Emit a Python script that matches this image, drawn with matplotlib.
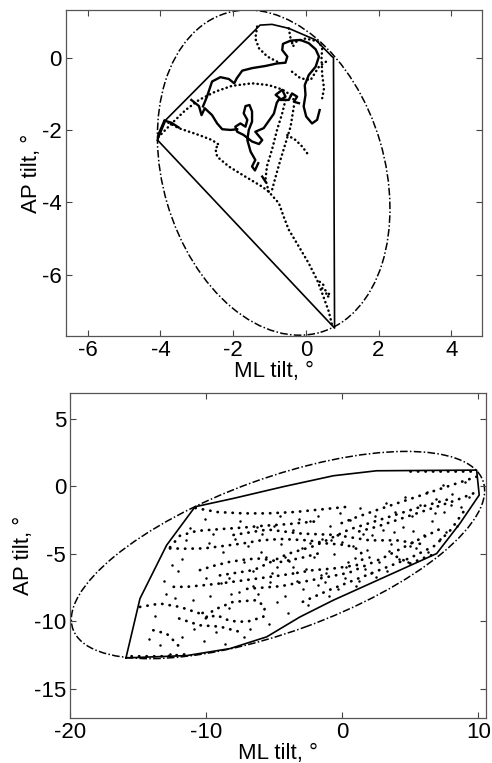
import matplotlib
matplotlib.use("Agg")
import matplotlib.pyplot as plt
from matplotlib.patches import Ellipse

plt.rcParams['font.family'] = ['Liberation Sans', 'DejaVu Sans']
plt.rcParams['axes.unicode_minus'] = False

# ---------------- top panel data (deg) ----------------
top_ell_center = (-0.885, -3.18)
top_ell_width = 6.1
top_ell_height = 9.2
top_ell_angle = 16.3

top_hull = [(-4.08, -2.28), (-3.85, -1.72), (-1.26, 0.90), (-0.93, 0.92), (-0.47, 0.81),
            (0.27, 0.49), (0.72, 0.03), (0.76, 0.0), (0.79, -7.48), (-4.08, -2.28)]

# dense (solid looking) parts of the sway path
top_solid_a = [(-4.06, -2.14), (-3.89, -1.74), (-3.70, -1.80), (-3.50, -1.93)]
top_solid_b1 = [(-3.15, -1.17), (-2.94, -1.34), (-2.87, -1.59), (-2.78, -1.40), (-2.58, -1.59),
                (-2.44, -1.82), (-2.30, -1.98), (-2.07, -2.00), (-1.89, -1.98)]
top_solid_b2 = [(-2.83, -1.35), (-2.72, -1.08), (-2.58, -0.66), (-2.35, -0.54), (-2.12, -0.59),
                (-1.97, -0.71), (-1.90, -0.57), (-1.75, -0.36), (-1.48, -0.29), (-1.11, -0.23),
                (-0.79, -0.16), (-0.56, -0.14), (-0.51, 0.03), (-0.65, 0.21), (-0.63, 0.38),
                (-0.42, 0.47), (-0.15, 0.49), (0.08, 0.40), (0.27, 0.23), (0.36, 0.03),
                (0.27, -0.25), (0.08, -0.48), (-0.03, -0.76), (-0.01, -1.03), (-0.06, -1.35),
                (0.01, -1.63), (0.17, -1.82), (0.31, -1.72), (0.38, -1.45)]
top_solid_c = [(-0.19, -1.26), (-0.33, -1.22), (-0.24, -1.08), (-0.38, -0.99), (-0.47, -1.17),
               (-0.70, -1.17), (-0.56, -1.08), (-0.65, -0.89), (-0.83, -1.03), (-0.72, -1.12),
               (-0.80, -1.25), (-0.88, -1.55), (-1.16, -1.95), (-1.39, -2.05), (-1.20, -2.28),
               (-1.29, -2.39), (-1.48, -2.32), (-1.71, -2.14), (-1.89, -2.05), (-1.94, -1.91),
               (-1.80, -1.82), (-1.66, -1.91), (-1.61, -1.72), (-1.71, -1.54), (-1.66, -1.34),
               (-1.55, -1.31), (-1.48, -1.49), (-1.48, -1.77), (-1.57, -2.00), (-1.61, -2.28),
               (-1.52, -2.60), (-1.39, -2.83), (-1.48, -3.01), (-1.40, -3.12), (-1.31, -2.92)]
top_solid_d = [(-1.20, -3.29), (-1.11, -3.43)]

# sparse (dotted looking) parts of the sway path
top_dot_1 = [(-3.89, -1.74), (-3.50, -1.95), (-2.94, -2.14), (-2.58, -2.28), (-2.39, -2.41),
             (-2.49, -2.51), (-2.44, -2.74), (-2.12, -3.01), (-1.75, -3.24), (-1.20, -3.57),
             (-1.02, -3.71), (-0.74, -4.03), (-0.61, -4.40), (-0.47, -4.76), (-0.19, -5.23),
             (0.08, -5.69), (0.31, -6.15), (0.45, -6.52), (0.63, -7.02), (0.72, -7.39)]
top_dot_2 = [(-4.06, -2.20), (-3.68, -1.81), (-3.31, -1.45), (-2.94, -1.17), (-2.49, -0.94),
             (-2.03, -0.78), (-1.48, -0.71), (-1.02, -0.76), (-0.65, -0.88), (-0.42, -1.03),
             (-0.33, -1.17)]
top_dot_3 = [(-0.56, -1.17), (-0.65, -1.54), (-0.79, -1.99), (-0.93, -2.54), (-1.07, -3.00),
             (-1.11, -3.37), (-1.02, -3.71)]
top_dot_4 = [(-0.33, -1.35), (-0.42, -1.91), (-0.56, -2.37), (-0.70, -2.83), (-0.83, -3.29),
             (-0.93, -3.66)]
top_dot_5 = [(-0.51, -2.14), (-0.28, -2.28), (-0.10, -2.46), (0.04, -2.65), (0.10, -2.72)]
top_dot_6 = [(-1.34, 0.86), (-1.39, 0.53), (-1.29, 0.26), (-1.06, 0.03), (-0.79, -0.11)]
top_dot_7 = [(-0.47, 0.81), (-0.42, 0.53), (-0.33, 0.30)]
top_dot_8 = [(-0.38, 0.40), (-0.01, 0.53), (0.36, 0.44), (0.45, 0.26), (0.43, -0.02),
             (0.45, -0.48), (0.50, -0.85), (0.45, -1.12)]
top_dot_9 = [(-0.38, -0.39), (-0.15, -0.57), (0.13, -0.62), (0.36, -0.25), (0.63, -0.06)]
top_dot_10 = [(0.38, -6.20), (0.50, -6.30), (0.44, -6.40), (0.58, -6.45), (0.55, -6.58),
              (0.65, -6.62), (0.63, -6.50)]

# ---------------- bottom panel data (deg) ----------------
bot_ell_center = (-4.73, -5.09)
bot_ell_width = 32.1
bot_ell_height = 11.4
bot_ell_angle = 20.1

bot_hull = [(-15.91, -12.72), (-14.88, -8.32), (-12.92, -4.36), (-10.83, -1.51), (-8.01, -0.89),
            (-4.34, -0.02), (-0.66, 0.79), (2.52, 1.16), (9.88, 1.21), (10.07, -0.64),
            (8.65, -2.75), (6.94, -4.98), (4.24, -6.21), (-0.66, -8.44), (-3.11, -9.68),
            (-5.56, -11.16), (-8.26, -12.03), (-11.45, -12.55), (-15.91, -12.72)]

bot_path_1 = [(-10.8, -1.6), (-9.2, -1.9), (-7.3, -2.0), (-5.5, -2.0), (-3.5, -1.9), (-1.5, -1.7), (0.5, -1.5)]
bot_path_2 = [(-12.67, -4.52), (-11.94, -3.66), (-10.71, -3.30), (-8.99, -3.17), (-7.28, -3.05),
              (-5.81, -2.92), (-4.0, -2.8), (-2.0, -2.6)]
bot_path_3 = [(-12.67, -4.6), (-11.5, -4.62), (-10.2, -4.6), (-9.0, -4.45), (-7.3, -4.23),
              (-6.0, -4.0), (-4.5, -3.9), (-2.5, -4.0), (-1.15, -4.23), (0.32, -4.35),
              (1.30, -4.72), (1.55, -5.34), (1.06, -5.84), (-0.66, -6.09), (-2.13, -6.21),
              (-3.6, -6.46)]
bot_path_4 = [(-10.47, -6.21), (-9.5, -5.9), (-8.3, -5.6), (-7.0, -5.4), (-6.0, -5.35),
              (-4.5, -5.6), (-3.0, -5.3), (-1.5, -4.9)]
bot_path_5 = [(-12.4, -7.45), (-11.45, -7.45), (-10.2, -7.33), (-9.0, -7.2), (-7.5, -7.0),
              (-6.0, -6.8), (-4.5, -6.6), (-3.6, -6.46)]
bot_path_6 = [(-14.88, -8.94), (-13.4, -8.69), (-11.94, -8.94), (-10.47, -9.43)]
bot_path_7 = [(-9.98, -9.68), (-9.49, -9.18), (-8.02, -8.56), (-6.30, -8.44), (-5.69, -8.93),
              (-5.81, -9.68), (-7.04, -10.05), (-8.26, -9.98), (-9.24, -9.55), (-10.10, -9.80),
              (-10.3, -9.4), (-9.9, -9.2)]
bot_path_8 = [(-13.9, -10.67), (-12.92, -10.92), (-12.18, -11.66), (-11.81, -12.15)]
bot_path_9 = [(9.88, 0.72), (8.41, 0.22), (6.94, -0.27), (5.47, -0.77), (4.0, -1.26),
              (2.52, -1.76), (1.0, -2.3), (-0.5, -2.9)]
bot_path_10 = [(9.63, -0.52), (8.41, -1.01), (6.94, -1.51), (5.47, -2.0), (4.0, -2.5),
               (2.5, -3.0), (1.0, -3.4)]
bot_path_11 = [(5.0, 1.12), (9.9, 1.12)]
bot_path_12 = [(8.9, -1.9), (8.0, -3.2), (6.8, -4.4), (5.0, -5.3), (3.0, -6.1), (1.0, -6.9),
               (-1.0, -7.7), (-3.0, -8.6)]
bot_path_13 = [(4.0, -5.22), (4.98, -5.72), (6.2, -5.22), (6.94, -4.98)]
bot_path_14 = [(-15.5, -12.6), (-13.0, -12.6), (-11.5, -12.45)]
bot_path_15 = [(-8.0, -3.6), (-5.5, -3.2), (-3.0, -3.5), (-0.5, -3.6), (2.0, -4.0), (4.0, -4.0), (6.0, -4.3)]
bot_path_16 = [(-9.0, -6.6), (-6.5, -6.2), (-4.0, -5.0), (-2.0, -4.4), (0.5, -3.2), (3.0, -2.4),
               (5.5, -1.6), (8.0, -0.9)]
bot_path_17 = [(-7.0, -7.6), (-4.5, -7.4), (-2.0, -6.9), (0.5, -6.4), (3.0, -5.3), (5.5, -4.0), (7.5, -3.0)]
bot_path_18 = [(-12.0, -9.8), (-10.5, -10.3), (-9.0, -10.4), (-7.5, -10.8)]

bot_scatter = [(-9.5, -3.5), (-8.8, -4.9), (-8.3, -6.8), (-7.9, -3.9), (-7.6, -7.8), (-7.2, -5.6),
               (-6.9, -4.4), (-6.6, -6.3), (-6.2, -8.0), (-5.9, -3.5), (-5.6, -5.2), (-5.3, -7.1),
               (-5.0, -2.9), (-4.8, -6.0), (-4.5, -4.3), (-4.2, -8.1), (-3.9, -5.5), (-3.6, -3.2),
               (-3.3, -7.0), (-3.0, -4.6), (-2.7, -6.1), (-2.4, -2.6), (-2.1, -5.2), (-1.8, -7.3),
               (-1.5, -3.9), (-1.2, -6.4), (-0.9, -2.9), (-0.6, -5.0), (-0.3, -7.6), (0.0, -4.1),
               (0.3, -6.0), (0.6, -2.5), (0.9, -5.3), (1.2, -7.0), (1.5, -3.5), (1.8, -4.7),
               (2.1, -6.4), (2.4, -2.2), (2.7, -5.6), (3.0, -3.2), (3.3, -6.3), (3.6, -4.3),
               (3.9, -1.9), (4.2, -5.4), (4.5, -3.0), (4.8, -5.6), (5.1, -2.2), (5.4, -4.6),
               (5.7, -1.4), (6.0, -3.6), (6.3, -4.9), (6.6, -2.6), (6.9, -0.9), (7.2, -3.9),
               (7.5, -1.9), (7.6, -3.4), (8.1, -0.6), (8.4, -2.9), (8.7, -1.5), (9.0, 0.3),
               (9.3, -0.8), (-11.8, -5.4), (-12.3, -8.3), (-13.1, -7.0), (-13.8, -9.6),
               (-14.2, -11.3), (-13.4, -11.8), (-12.7, -12.4), (-10.9, -10.6), (-10.2, -11.5),
               (-9.3, -10.8), (-8.6, -11.7), (-11.2, -3.1), (-10.1, -2.4), (-12.1, -6.3),
               (-9.7, -8.1), (-8.9, -7.2), (-4.0, -9.4), (-2.5, -8.8), (-1.0, -8.1),
               (1.0, -7.4), (2.5, -6.7), (-6.8, -10.6), (-5.4, -10.2),
               (-7.5, -2.6), (-6.3, -3.0), (-4.6, -2.2), (-3.2, -2.4), (-1.8, -2.2), (-0.2, -2.0),
               (1.3, -1.6), (3.2, -1.2), (4.6, -0.8), (6.2, -0.4), (7.4, 0.1), (-6.0, -4.9),
               (-4.2, -5.2), (-2.4, -4.2), (-0.8, -4.0), (0.8, -4.4), (2.2, -3.6), (3.8, -3.4),
               (5.2, -3.3), (6.8, -2.0), (8.0, -1.4), (-5.2, -6.4), (-3.6, -6.0), (-1.6, -6.6),
               (0.4, -5.6), (2.0, -5.2), (3.4, -4.8), (5.0, -4.4), (-8.2, -8.0), (-6.6, -7.4),
               (-4.8, -8.6), (-2.9, -7.6), (-1.3, -7.1), (0.2, -6.8), (1.7, -6.1), (-11.0, -8.4),
               (-10.0, -6.8), (-11.5, -4.0), (-9.8, -4.2), (-8.3, -9.0), (-7.2, -11.2),
               (-11.8, -11.2), (-13.0, -8.0), (-12.5, -5.8)]

top_xticks = [-6, -4, -2, 0, 2, 4]
top_yticks = [-6, -4, -2, 0]
bot_xticks = [-20, -10, 0, 10]
bot_yticks = [-15, -10, -5, 0, 5]


def xs(pts):
    return [p[0] for p in pts]


def ys(pts):
    return [p[1] for p in pts]


def style_axes(ax):
    ax.tick_params(direction='in', top=True, right=True, length=4, width=0.8,
                   labelsize=16, pad=3, color='#444444')
    for s in ax.spines.values():
        s.set_color('#555555')
        s.set_linewidth(0.9)
    ax.set_xlabel('ML tilt, °', fontsize=16, labelpad=0)
    ax.set_ylabel('AP tilt, °', fontsize=16, labelpad=0)


fig = plt.figure(figsize=(4.92, 7.63), dpi=100)

# ---- top ----
ax1 = fig.add_axes([0.134, 0.5596, 0.846, 0.4274])
ax1.add_patch(Ellipse(top_ell_center, top_ell_width, top_ell_height, angle=top_ell_angle,
                      fill=False, ec='black', lw=1.1, ls=(0, (5, 1.5, 1, 1.5))))
ax1.plot(xs(top_hull), ys(top_hull), color='black', lw=1.2)
for path in [top_dot_1, top_dot_2, top_dot_3, top_dot_4, top_dot_5, top_dot_6,
             top_dot_7, top_dot_8, top_dot_9, top_dot_10]:
    ax1.plot(xs(path), ys(path), color='black', lw=1.8, ls=(0, (0.1, 1.7)),
             dash_capstyle='round')
for path in [top_solid_a, top_solid_b1, top_solid_b2, top_solid_c, top_solid_d]:
    ax1.plot(xs(path), ys(path), color='black', lw=1.7, solid_joinstyle='round')
ax1.set_xlim(-6.6, 4.85)
ax1.set_ylim(-7.7, 1.32)
ax1.set_xticks(top_xticks)
ax1.set_yticks(top_yticks)
style_axes(ax1)

# ---- bottom ----
ax2 = fig.add_axes([0.143, 0.0586, 0.844, 0.4267])
ax2.add_patch(Ellipse(bot_ell_center, bot_ell_width, bot_ell_height, angle=bot_ell_angle,
                      fill=False, ec='black', lw=1.1, ls=(0, (5, 1.5, 1, 1.5))))
ax2.plot(xs(bot_hull), ys(bot_hull), color='black', lw=1.2)
for path in [bot_path_1, bot_path_2, bot_path_3, bot_path_4, bot_path_5, bot_path_6,
             bot_path_7, bot_path_8, bot_path_9, bot_path_10, bot_path_11, bot_path_12,
             bot_path_13, bot_path_14, bot_path_15, bot_path_16, bot_path_17, bot_path_18]:
    ax2.plot(xs(path), ys(path), color='black', lw=2.0, ls=(0, (0.1, 2.6)),
             dash_capstyle='round')
ax2.plot(xs(bot_scatter), ys(bot_scatter), 'k.', ms=3.6, mew=0)
ax2.set_xlim(-20, 10.54)
ax2.set_ylim(-17.2, 6.95)
ax2.set_xticks(bot_xticks)
ax2.set_yticks(bot_yticks)
style_axes(ax2)

fig.savefig('out.png', dpi=100)
